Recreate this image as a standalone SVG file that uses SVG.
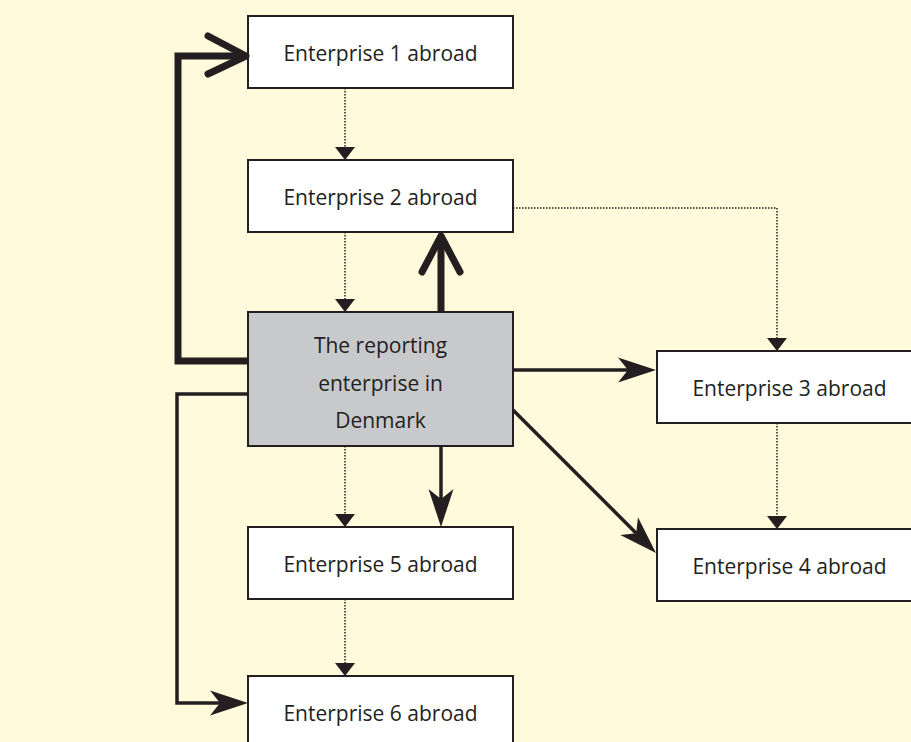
<svg xmlns="http://www.w3.org/2000/svg" width="911" height="742" viewBox="0 0 911 742">
<style>
.box{fill:#ffffff;stroke:#231f20;stroke-width:2}
.main{fill:#c8c9cb;stroke:#231f20;stroke-width:2}
.lbl{font-family:"Open Sans","Noto Sans","Liberation Sans",sans-serif;font-size:21px;fill:#231f20;text-anchor:middle}
.thick{fill:none;stroke:#231f20;stroke-width:7;stroke-linejoin:miter}
.chev{fill:none;stroke:#231f20;stroke-width:7;stroke-linejoin:round;stroke-linecap:round}
.solid{fill:none;stroke:#231f20;stroke-width:3.5}
.dot{fill:none;stroke:#231f20;stroke-width:1.5;stroke-dasharray:1.5 1.5}
</style>
<defs>
<marker id="barb" markerUnits="userSpaceOnUse" viewBox="0 0 40 26" markerWidth="40" markerHeight="26" refX="12" refY="13" orient="auto">
<path d="M40,13 L2,0.5 L12,13 L2,25.5 Z" fill="#231f20"/>
</marker>
<marker id="tri" markerUnits="userSpaceOnUse" viewBox="0 0 13 20" markerWidth="13" markerHeight="20" refX="0" refY="10" orient="auto">
<path d="M0,0 L13,10 L0,20 Z" fill="#231f20"/>
</marker>
</defs>
<rect x="0" y="0" width="911" height="742" fill="#fffadc"/>
<g id="e1"><rect class="box" x="248" y="16" width="265" height="72"/><text class="lbl" x="380.5" y="61">Enterprise 1 abroad</text></g>
<g id="e2"><rect class="box" x="248" y="160" width="265" height="72"/><text class="lbl" x="380.5" y="205">Enterprise 2 abroad</text></g>
<g id="reporting"><rect class="main" x="248" y="312" width="265" height="134"/><text class="lbl" x="380.5" y="353">The reporting</text><text class="lbl" x="380.5" y="390.5">enterprise in</text><text class="lbl" x="380.5" y="428">Denmark</text></g>
<g id="e3"><rect class="box" x="657" y="351" width="265" height="72"/><text class="lbl" x="789.5" y="396">Enterprise 3 abroad</text></g>
<g id="e4"><rect class="box" x="657" y="529" width="265" height="72"/><text class="lbl" x="789.5" y="574">Enterprise 4 abroad</text></g>
<g id="e5"><rect class="box" x="248" y="527" width="265" height="72"/><text class="lbl" x="380.5" y="572">Enterprise 5 abroad</text></g>
<g id="e6"><rect class="box" x="248" y="676" width="265" height="72"/><text class="lbl" x="380.5" y="721">Enterprise 6 abroad</text></g>
<g id="connectors">
<path class="thick" d="M248,361 H178 V56 H244"/>
<path class="chev" d="M208,36 L246,56 L208,74"/>
<path class="thick" d="M441,312 V238"/>
<path class="chev" d="M422,272 L441,236 L460,272"/>
<path class="solid" d="M513,370 H628" marker-end="url(#barb)"/>
<path class="solid" d="M513,410 L636.2,533.2" marker-end="url(#barb)"/>
<path class="solid" d="M441,446 V499" marker-end="url(#barb)"/>
<path class="solid" d="M248,394 H177 V703 H220" marker-end="url(#barb)"/>
<path class="dot" d="M345,88 V147" marker-end="url(#tri)"/>
<path class="dot" d="M345,232 V299" marker-end="url(#tri)"/>
<path class="dot" d="M513,208 H777 V338" marker-end="url(#tri)"/>
<path class="dot" d="M777,423 V516" marker-end="url(#tri)"/>
<path class="dot" d="M345,446 V514" marker-end="url(#tri)"/>
<path class="dot" d="M345,599 V663" marker-end="url(#tri)"/>
</g>
</svg>
